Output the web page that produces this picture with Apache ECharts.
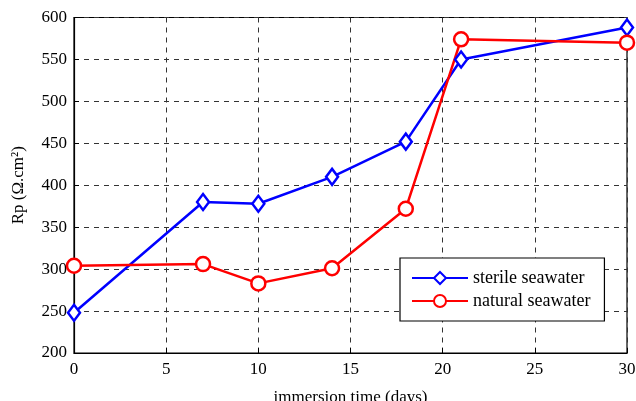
<!DOCTYPE html>
<html><head><meta charset="utf-8">
<script src="https://cdn.jsdelivr.net/npm/echarts@6/dist/echarts.min.js"></script>
<style>html,body{margin:0;padding:0;background:#fff}#c{width:636px;height:401px}</style>
</head><body><div id="c"></div>
<script>
const days = [0, 7, 10, 14, 18, 21, 30];
const sterile = [248, 380, 378, 410, 452, 550, 588];
const natural = [304, 306, 283, 301, 372, 574, 570];
const xTicks = [0, 5, 10, 15, 20, 25, 30];
const yTicks = [200, 250, 300, 350, 400, 450, 500, 550, 600];

const font = 'Liberation Serif';
const chart = echarts.init(document.getElementById('c'), null, {renderer: 'canvas'});
chart.setOption({
  animation: false,
  backgroundColor: '#fff',
  textStyle: {fontFamily: font},
  grid: {left: 74, right: 9, top: 17.5, bottom: 48, containLabel: false, outerBoundsMode: 'none',
         show: true, borderColor: '#000', borderWidth: 1.2, backgroundColor: 'transparent'},
  xAxis: {
    type: 'value', min: 0, max: 30, interval: 5,
    name: 'immersion time (days)', nameLocation: 'middle', nameGap: 36,
    nameTextStyle: {fontFamily: font, fontSize: 17, color: '#000'},
    axisLine: {show: true, lineStyle: {color: '#000', width: 1.2}},
    axisTick: {show: true, inside: true, length: 5, lineStyle: {color: '#000'}},
    axisLabel: {fontFamily: font, fontSize: 17, color: '#000', margin: 8},
    splitLine: {show: true, lineStyle: {color: '#333', type: [5, 5], width: 1}}
  },
  yAxis: {
    type: 'value', min: 200, max: 600, interval: 50,
    name: 'Rp (Ω.cm²)', nameLocation: 'middle', nameGap: 47, nameRotate: 90,
    nameTextStyle: {fontFamily: font, fontSize: 17, color: '#000'},
    axisLine: {show: true, lineStyle: {color: '#000', width: 1.2}},
    axisTick: {show: true, inside: true, length: 5, lineStyle: {color: '#000'}},
    axisLabel: {fontFamily: font, fontSize: 17, color: '#000', margin: 7},
    splitLine: {show: true, lineStyle: {color: '#333', type: [5, 5], width: 1}}
  },
  legend: {
    orient: 'vertical', left: 400, top: 258,
    backgroundColor: '#fff', borderColor: '#000', borderWidth: 1.2,
    padding: [11, 14, 11, 11], itemGap: 5, itemWidth: 56, itemHeight: 15,
    textStyle: {fontFamily: font, fontSize: 18, color: '#000'},
    data: ['sterile seawater', 'natural seawater']
  },
  series: [
    {name: 'sterile seawater', type: 'line', data: days.map((d, i) => [d, sterile[i]]),
     symbol: 'diamond', symbolSize: [12, 16], showAllSymbol: true,
     lineStyle: {color: '#0000ff', width: 2.5}, itemStyle: {color: '#fff', borderColor: '#0000ff', borderWidth: 2.5}},
    {name: 'natural seawater', type: 'line', data: days.map((d, i) => [d, natural[i]]),
     symbol: 'circle', symbolSize: 14, showAllSymbol: true,
     lineStyle: {color: '#ff0000', width: 2.5}, itemStyle: {color: '#fff', borderColor: '#ff0000', borderWidth: 2.5}}
  ]
});
</script></body></html>
